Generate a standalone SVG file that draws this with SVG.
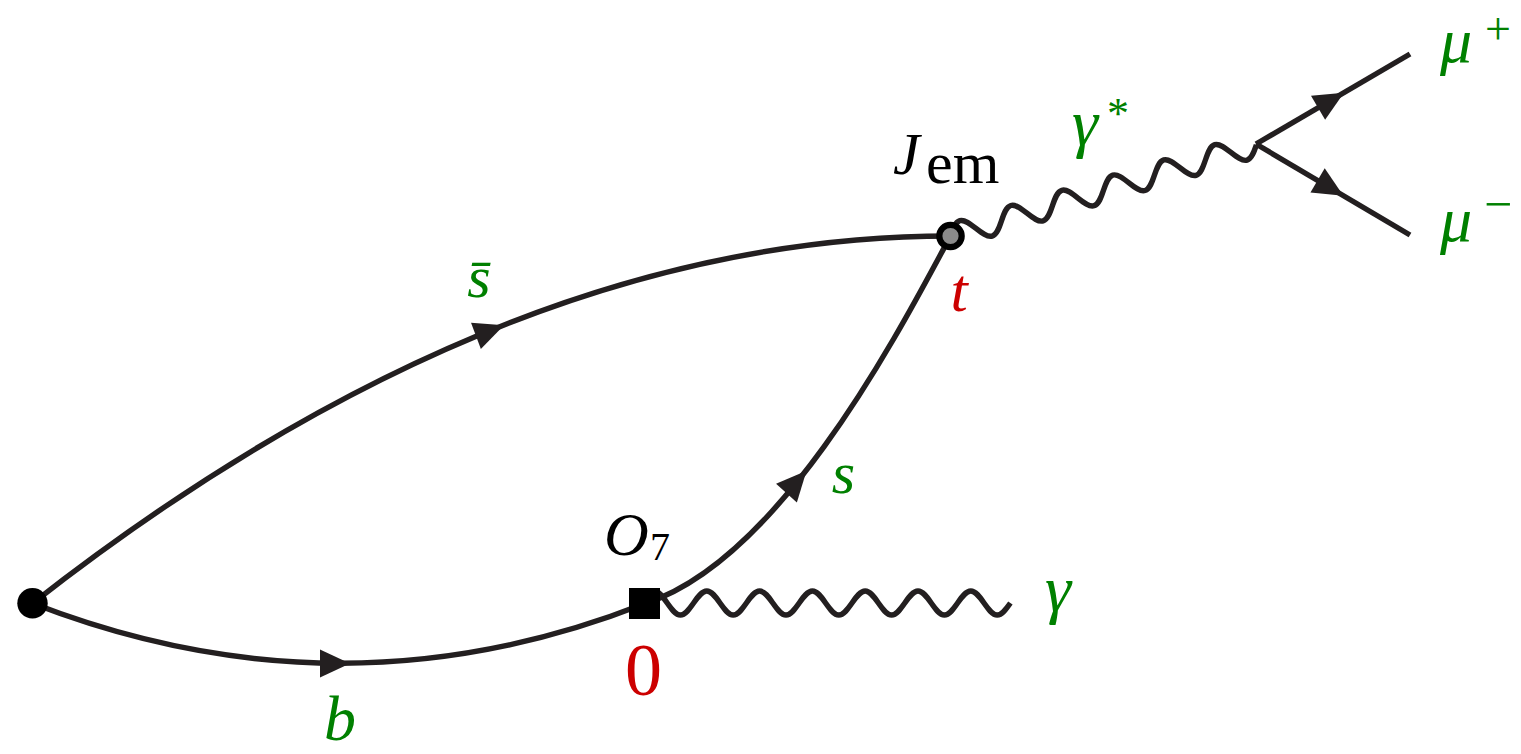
<svg xmlns="http://www.w3.org/2000/svg" width="1521" height="754" viewBox="0 0 1521 754">
<style>
.ln{fill:none;stroke:#231f20;stroke-width:5.4}
.ah{fill:#231f20}
.m{font-family:"Liberation Serif","DejaVu Serif",serif;font-style:italic}
.n{font-family:"Liberation Serif","DejaVu Serif",serif;font-style:normal}
.g{fill:#008000}
.r{fill:#cc0000}
.k{fill:#000}
</style>
<defs><path id="arr" d="M15,0 L-15,-14 L-15,14 Z"/></defs>
<rect width="1521" height="754" fill="#fff"/>
<g id="connectors">
 <path class="ln" d="M32.5,603.3 Q502,236 950.5,236"/>
 <path class="ln" d="M32.5,603.3 Q341.5,723 645,603.5"/>
 <path class="ln" d="M645,603.5 C781,560 900,330 950.5,236"/>
 <path class="ln" d="M640.8,603 c4.3,-6.15 8.42,-12 13.2,-12 c9.59,0 16.81,24 26.4,24 c9.59,0 16.81,-24 26.4,-24 c9.59,0 16.81,24 26.4,24 c9.59,0 16.81,-24 26.4,-24 c9.59,0 16.81,24 26.4,24 c9.59,0 16.81,-24 26.4,-24 c9.59,0 16.81,24 26.4,24 c9.59,0 16.81,-24 26.4,-24 c9.59,0 16.81,24 26.4,24 c9.59,0 16.81,-24 26.4,-24 c9.59,0 16.81,24 26.4,24 c9.59,0 16.81,-24 26.4,-24 c9.59,0 16.81,24 26.4,24 c4.8,0 8.9,-5.85 13.2,-12"/>
 <path class="ln" transform="translate(950.5,236) rotate(-16.6)" d="M0,0 c4.33,-6.15 8.48,-12 13.3,-12 c9.67,0 16.93,24 26.6,24 c9.67,0 16.93,-24 26.6,-24 c9.67,0 16.93,24 26.6,24 c9.67,0 16.93,-24 26.6,-24 c9.67,0 16.93,24 26.6,24 c9.67,0 16.93,-24 26.6,-24 c9.67,0 16.93,24 26.6,24 c9.67,0 16.93,-24 26.6,-24 c9.67,0 16.93,24 26.6,24 c9.67,0 16.93,-24 26.6,-24 c9.67,0 16.93,24 26.6,24 c4.82,0 8.97,-5.85 13.3,-12"/>
 <path class="ln" d="M1256,144 L1410,54"/>
 <path class="ln" d="M1256,144 L1410,235"/>
 <g class="ah">
  <use href="#arr" transform="translate(335,663.5)"/>
  <use href="#arr" transform="translate(490,330.6) rotate(-20.5)"/>
  <use href="#arr" transform="translate(796.5,482) rotate(-48)"/>
  <use href="#arr" transform="translate(1331,100.2) rotate(-30.3)"/>
  <use href="#arr" transform="translate(1330.5,188) rotate(30.6)"/>
 </g>
</g>
<g id="labels-lines">
 <text class="m g" x="340" y="740" font-size="64" text-anchor="middle">b</text>
 <text class="m g" x="479" y="297" font-size="60" text-anchor="middle">s̄</text>
 <text class="m g" x="843.5" y="493" font-size="60" text-anchor="middle">s</text>
</g>
<g id="node-left">
 <circle cx="32.5" cy="603.3" r="15.2" fill="#000"/>
</g>
<g id="node-o7">
 <rect x="629" y="588" width="31" height="31" fill="#000"/>
 <text class="m k" x="604" y="555" font-size="62">O<tspan class="n" x="650" y="560" font-size="40">7</tspan></text>
 <text class="n r" x="643.5" y="695" font-size="74" text-anchor="middle">0</text>
</g>
<g id="node-jem">
 <circle cx="950.5" cy="236" r="11.2" fill="#8a8a8a" stroke="#000" stroke-width="6.2"/>
 <text class="m k" x="893" y="174" font-size="60">J<tspan class="n" x="926" y="183" font-size="60">em</tspan></text>
 <text class="m r" x="959" y="311" font-size="62" text-anchor="middle">t</text>
</g>
<g id="node-gamma">
 <text class="m g" x="1058" y="611" font-size="66" text-anchor="middle">γ</text>
</g>
<g id="node-gammastar">
 <text class="m g" x="1085" y="145" font-size="66" text-anchor="middle">γ<tspan class="n" x="1118" y="128" font-size="44">*</tspan></text>
</g>
<g id="node-muplus">
 <text class="m g" x="1456" y="62" font-size="64" text-anchor="middle">μ</text>
 <text class="n g" x="1498" y="44" font-size="46" text-anchor="middle">+</text>
</g>
<g id="node-muminus">
 <text class="m g" x="1456" y="241" font-size="64" text-anchor="middle">μ</text>
 <text class="n g" x="1498" y="220.5" font-size="50" text-anchor="middle">−</text>
</g>
</svg>
